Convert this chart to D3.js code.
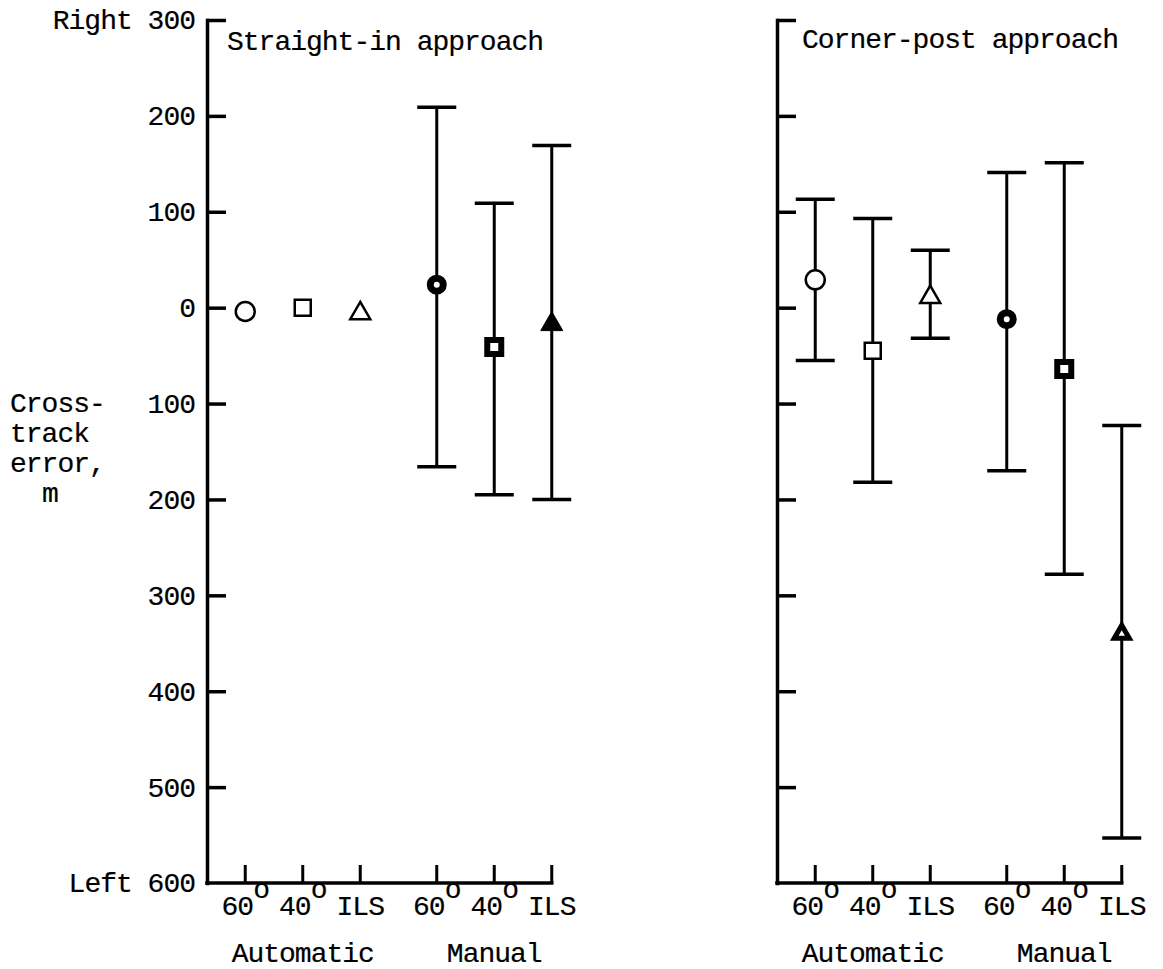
<!DOCTYPE html>
<html><head><meta charset="utf-8">
<script src="https://cdn.jsdelivr.net/npm/d3@7"></script>
<style>
html,body{margin:0;padding:0;background:#fff;}
svg{display:block;}
text{font-family:"Liberation Mono","Courier New",monospace;fill:#000;stroke:#000;stroke-width:0.2px;}
</style></head><body>
<svg id="chart" width="1163" height="969"></svg>
<script>
// ---------------- data ----------------
const panels = ["Straight-in approach", "Corner-post approach"];
const groups = ["Automatic", "Manual"];
const conditions = ["60°", "40°", "ILS"];
const yTicks = [300, 200, 100, 0, -100, -200, -300, -400, -500, -600];
const yTitle = ["Cross-", "track", "error,", "m"];
// positive = Right, negative = Left (m); order: Auto 60,40,ILS, Manual 60,40,ILS
const straightMean = [-4, 0, -3, 24, -41, -14];
const straightHigh = [null, null, null, 209, 109, 169];
const straightLow  = [null, null, null, -166, -195, -200];
const cornerMean = [29, -45, 14, -12, -64, -338];
const cornerHigh = [113, 93, 60, 141, 151, -123];
const cornerLow  = [-55, -182, -32, -170, -278, -553];

// ---------------- layout ----------------
const W = 1163, H = 969;
const svg = d3.select("#chart");
svg.append("rect").attr("width", W).attr("height", H).attr("fill", "#fff");
const FS = 28, LSP = -1;

const y = d3.scaleLinear().domain([300, -600]).range([20, 883]);
const xGroup = d3.scaleBand().domain(groups).range([0, 383]).padding(0);
const xCond = d3.scalePoint().domain(conditions).range([-57.5, 57.5]);
const cats = groups.flatMap(g => conditions.map(c => ({ g, c })));
const catX = d => xGroup(d.g) + xGroup.bandwidth() / 2 + xCond(d.c);

const panelDefs = [
  { title: panels[0], mean: straightMean, hi: straightHigh, lo: straightLow, x0: 207, labels: true, titleDx: 20, titleY: 50 },
  { title: panels[1], mean: cornerMean, hi: cornerHigh, lo: cornerLow, x0: 777, labels: false, titleDx: 25, titleY: 48 }
];

function styleText(sel) {
  sel.attr("font-size", FS).attr("letter-spacing", LSP)
     .style("font-family", '"Liberation Mono","Courier New",monospace');
}

panelDefs.forEach((p, pi) => {
  const g = svg.append("g").attr("transform", `translate(${p.x0},0)`);

  // y axis
  const axis = d3.axisLeft(y).tickValues(yTicks)
    .tickSizeInner(-19).tickSizeOuter(0).tickPadding(12)
    .tickFormat(v => !p.labels ? "" : v === 300 ? "Right 300" : v === -600 ? "Left 600" : String(Math.abs(v)));
  const ag = g.append("g").call(axis);
  ag.select(".domain").attr("stroke", "#000").attr("stroke-width", 3.5).attr("stroke-linecap", "square");
  ag.selectAll(".tick line").attr("stroke", "#000").attr("stroke-width", 3.5)
    .attr("display", d => d === -600 ? "none" : null);
  ag.selectAll(".tick text").call(styleText).attr("fill", "#000");

  // bottom axis
  const lastX = catX(cats[cats.length - 1]);
  g.append("line").attr("x1", 0).attr("x2", lastX).attr("y1", y(-600)).attr("y2", y(-600))
    .attr("stroke", "#000").attr("stroke-width", 3.5).attr("stroke-linecap", "square");
  g.selectAll(".ctick").data(cats).join("line").attr("class", "ctick")
    .attr("x1", catX).attr("x2", catX).attr("y1", y(-600)).attr("y2", y(-600) - 18)
    .attr("stroke", "#000").attr("stroke-width", 3);
  const lab = g.selectAll(".clab").data(cats).join("text").attr("class", "clab")
    .attr("x", catX).attr("y", 915).attr("text-anchor", "middle").call(styleText);
  lab.each(function (d) {
    const t = d3.select(this);
    if (d.c.includes("°")) {
      t.append("tspan").text(d.c.replace("°", ""));
      t.append("tspan").attr("dy", -17).text("o");
    } else t.text(d.c);
  });
  g.selectAll(".glab").data(groups).join("text").attr("class", "glab")
    .attr("x", d => xGroup(d) + xGroup.bandwidth() / 2).attr("y", 962)
    .attr("text-anchor", "middle").call(styleText).text(d => d);

  // title
  g.append("text").attr("x", p.titleDx).attr("y", p.titleY).call(styleText).text(p.title);

  // error bars
  const rows = cats.map((d, i) => ({ ...d, i, m: p.mean[i], hi: p.hi[i], lo: p.lo[i] }));
  const eb = rows.filter(r => r.hi !== null && r.lo !== null);
  g.selectAll(".ev").data(eb).join("line").attr("class", "ev")
    .attr("x1", catX).attr("x2", catX).attr("y1", r => y(r.hi)).attr("y2", r => y(r.lo))
    .attr("stroke", "#000").attr("stroke-width", 3);
  const capW = 39;
  eb.forEach(r => {
    [r.hi, r.lo].forEach(v => {
      g.append("line").attr("x1", catX(r) - capW / 2).attr("x2", catX(r) + capW / 2)
        .attr("y1", y(v)).attr("y2", y(v)).attr("stroke", "#000").attr("stroke-width", 3.5);
    });
  });

  // markers
  const shapeOf = c => c === "60°" ? d3.symbolCircle : c === "40°" ? d3.symbolSquare : d3.symbolTriangle;
  const styleOf = r => {
    if (r.g === "Automatic") return "open";
    if (pi === 0 && r.c === "ILS") return "solid";
    return "bold";
  };
  const sizeOf = r => {
    const s = styleOf(r);
    if (r.c === "60°") return s === "open" ? Math.PI * 9.5 * 9.5 : Math.PI * 6.5 * 6.5;
    if (r.c === "40°") return s === "open" ? 16 * 16 : 14 * 14;
    const side = s === "open" ? 20 : s === "solid" ? 22 : 15;
    return Math.sqrt(3) / 4 * side * side;
  };
  g.selectAll(".mk").data(rows).join("path").attr("class", "mk")
    .attr("d", r => d3.symbol(shapeOf(r.c), sizeOf(r))())
    .attr("transform", r => {
      let dy = 0;
      if (r.c === "ILS") { const side = Math.sqrt(sizeOf(r) * 4 / Math.sqrt(3)); dy = side * Math.sqrt(3) / 2 / 6; }
      return `translate(${catX(r)},${y(r.m) + dy})`;
    })
    .attr("fill", r => styleOf(r) === "solid" ? "#000" : "#fff")
    .attr("stroke", "#000")
    .attr("stroke-linejoin", "miter")
    .attr("stroke-width", r => { const s = styleOf(r); return s === "open" ? 2.5 : s === "solid" ? 1 : (r.c === "60°" ? 7 : r.c === "40°" ? 6 : 5); });
});

// y axis title
svg.append("g").selectAll("text").data(yTitle).join("text")
  .attr("x", (d, i) => i === 3 ? 42 : 10)
  .attr("y", (d, i) => 412 + i * 30)
  .call(styleText).text(d => d);
</script>
</body></html>
